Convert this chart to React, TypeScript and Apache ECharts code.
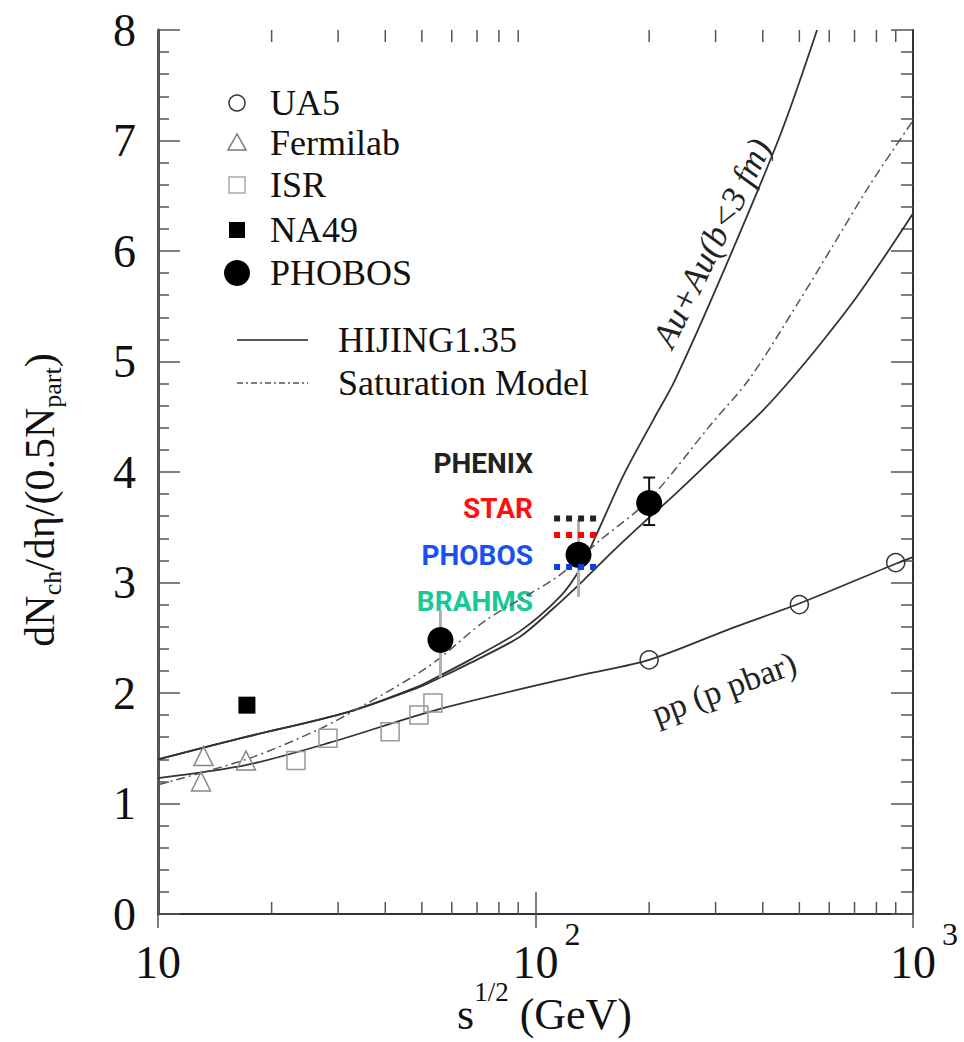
import React, { useEffect, useRef } from 'react';
import * as echarts from 'echarts';

// ---------------- data ----------------
const xTickValues = [10, 100, 1000];
const xTickExponents = ['', '2', '3'];
const xMinorTicks = [20, 30, 40, 50, 60, 70, 80, 90, 200, 300, 400, 500, 600, 700, 800, 900];
const yTickValues = [0, 1, 2, 3, 4, 5, 6, 7, 8];

const ua5X = [200, 500, 900];
const ua5Y = [2.3, 2.8, 3.18];
const fermilabX = [13.2, 13.0, 17.1];
const fermilabY = [1.43, 1.2, 1.39];
const isrX = [23.2, 28.2, 41.2, 49.1, 53.5];
const isrY = [1.39, 1.59, 1.65, 1.8, 1.91];
const na49X = [17.2];
const na49Y = [1.89];
const phobosX = [56, 130, 200];
const phobosY = [2.48, 3.25, 3.72];
const phobosLow = [2.14, 2.87, 3.52];
const phobosHigh = [2.75, 3.57, 3.95];
const phobosCapped = [0, 0, 1];

const ppX = [10, 17.2, 28.5, 55, 131, 200, 333, 500, 900, 1000];
const ppY = [1.23, 1.35, 1.55, 1.85, 2.16, 2.3, 2.59, 2.81, 3.17, 3.23];

const hijingLowX = [10, 17, 32, 49, 56, 67, 91, 111, 134, 160, 193, 231, 278, 334, 401, 481, 578, 694, 833, 1000];
const hijingLowY = [1.4, 1.6, 1.83, 2.05, 2.14, 2.27, 2.51, 2.76, 3.02, 3.28, 3.54, 3.78, 4.04, 4.3, 4.56, 4.86, 5.19, 5.54, 5.93, 6.34];

const hijingHighX = [10, 17, 32, 49, 56, 67, 91, 116, 131, 148, 171, 205, 234, 308, 445, 557];
const hijingHighY = [1.4, 1.6, 1.83, 2.06, 2.16, 2.3, 2.56, 2.87, 3.12, 3.5, 3.97, 4.47, 4.83, 5.74, 7.05, 8.0];

const satX = [10, 17.5, 27, 36, 49, 56, 74, 114, 148, 200, 290, 370, 500, 614, 769, 1000];
const satY = [1.17, 1.41, 1.68, 1.91, 2.18, 2.32, 2.66, 3.05, 3.38, 3.75, 4.42, 4.85, 5.55, 6.05, 6.6, 7.18];

const rhicNames = ['PHENIX', 'STAR', 'PHOBOS', 'BRAHMS'];
const rhicColors = ['#222222', '#ff1010', '#1a50f0', '#18c896'];
const rhicDotColors = ['#222222', '#ff0000', '#0a40e0'];
const rhicX = [112, 145];
const rhicY = [3.58, 3.43, 3.14];

const legendMarkerNames = ['UA5', 'Fermilab', 'ISR', 'NA49', 'PHOBOS'];
const legendLineNames = ['HIJING1.35', 'Saturation Model'];

const SERIF = '"Liberation Serif", "Times New Roman", serif';

function pairs(xs: number[], ys: number[]) {
  return xs.map((x, i) => [x, ys[i]]);
}

export default function App() {
  const ref = useRef<HTMLDivElement>(null);

  useEffect(() => {
    if (!ref.current) return;
    const chart = echarts.init(ref.current, null, { renderer: 'svg' });

    const axisColor = '#333';
    const xLabelFormatter = (v: number) => {
      const i = xTickValues.findIndex((t) => Math.abs(t - v) < 1e-6 * t);
      if (i < 0) return '';
      const e = xTickExponents[i];
      return e ? `{e|}{a|10}{s|${e}}` : '{a|10}';
    };

    const curveLine = (name: string, xs: number[], ys: number[], style: any) => ({
      name,
      type: 'line',
      data: pairs(xs, ys),
      smooth: 0.3,
      symbol: 'none',
      silent: true,
      z: 2,
      lineStyle: style,
    });

    const legendY = [103, 143, 185, 230, 273];
    const legendLineY = [340, 383];
    const legendText = (t: string, x: number, y: number) => ({
      type: 'text',
      x,
      y,
      silent: true,
      style: { text: t, font: `36px ${SERIF}`, fill: '#111', align: 'left', verticalAlign: 'middle' },
    });

    const rhicLabelY = [463, 508, 555, 601];

    const option: any = {
      animation: false,
      backgroundColor: '#ffffff',
      grid: { left: 158, right: 51, top: 30, bottom: 128, containLabel: false, outerBoundsMode: 'none' },
      xAxis: [
        {
          type: 'log',
          logBase: 10,
          min: 10,
          max: 1000,
          position: 'bottom',
          axisLine: { show: true, lineStyle: { color: axisColor, width: 2 } },
          axisTick: { show: true, inside: true, length: 22, lineStyle: { color: '#555', width: 1.5 } },
          splitLine: { show: false },
          axisLabel: {
            show: true,
            margin: 4,
            showMinLabel: true,
            showMaxLabel: true,
            hideOverlap: false,
            formatter: xLabelFormatter,
            rich: {
              a: { fontFamily: SERIF, fontSize: 46, color: '#111', padding: [21, 0, 0, 0] },
              s: { fontFamily: SERIF, fontSize: 32, color: '#111', verticalAlign: 'top', padding: [0, 0, 0, 6] },
              e: { width: 22 },
            },
          },
          name: '{a|s}{s|1/2}{a| (GeV)}',
          nameLocation: 'middle',
          nameGap: 60,
          nameMoveOverlap: false,
          nameTextStyle: {
            padding: [0, 0, 0, 18],
            rich: {
              a: { fontFamily: SERIF, fontSize: 44, color: '#111', padding: [18, 0, 0, 0] },
              s: { fontFamily: SERIF, fontSize: 27, color: '#111', verticalAlign: 'top', padding: [4, 0, 0, 0] },
            },
          },
        },
        {
          type: 'log',
          logBase: 10,
          min: 10,
          max: 1000,
          position: 'top',
          axisLine: { show: true, lineStyle: { color: axisColor, width: 2 } },
          axisTick: { show: true, inside: true, length: 14, lineStyle: { color: '#555', width: 1.5 } },
          axisLabel: { show: false },
          splitLine: { show: false },
        },
      ],
      yAxis: [
        {
          type: 'value',
          min: yTickValues[0],
          max: yTickValues[yTickValues.length - 1],
          interval: 1,
          position: 'left',
          axisLine: { show: true, lineStyle: { color: '#555', width: 3 } },
          axisTick: { show: true, inside: true, length: 22, lineStyle: { color: '#555', width: 1.5 } },
          minorTick: { show: true, splitNumber: 5, length: 11, lineStyle: { color: '#555', width: 1.5 } },
          splitLine: { show: false },
          axisLabel: { show: true, margin: 22, fontFamily: SERIF, fontSize: 46, color: '#111' },
        },
        {
          type: 'value',
          min: yTickValues[0],
          max: yTickValues[yTickValues.length - 1],
          interval: 1,
          position: 'right',
          axisLine: { show: true, lineStyle: { color: axisColor, width: 2 } },
          axisTick: { show: true, inside: true, length: 22, lineStyle: { color: '#555', width: 1.5 } },
          minorTick: { show: true, splitNumber: 5, length: 12, lineStyle: { color: '#555', width: 1.5 } },
          splitLine: { show: false },
          axisLabel: { show: false },
        },
      ],
      series: [
        {
          name: 'minorTicks',
          type: 'custom',
          silent: true,
          clip: false,
          z: 1,
          data: xMinorTicks.map((v) => [v, 0]),
          encode: { x: 0, y: 1 },
          renderItem: (params: any, api: any) => {
            const b = api.coord([api.value(0), 0]);
            const t = api.coord([api.value(0), 8]);
            const st = { stroke: '#555', lineWidth: 1.5 };
            return {
              type: 'group',
              children: [
                { type: 'line', shape: { x1: b[0], y1: b[1], x2: b[0], y2: b[1] - 12 }, style: st },
                { type: 'line', shape: { x1: t[0], y1: t[1], x2: t[0], y2: t[1] + 12 }, style: st },
              ],
            };
          },
        },
        curveLine('pp', ppX, ppY, { color: '#333', width: 1.8 }),
        curveLine('HIJING1.35 low', hijingLowX, hijingLowY, { color: '#333', width: 1.8 }),
        curveLine('HIJING1.35 high', hijingHighX, hijingHighY, { color: '#333', width: 1.8 }),
        curveLine('Saturation Model', satX, satY, { color: '#555', width: 1.5, type: [9, 4, 2, 4] }),
        {
          name: 'UA5',
          type: 'scatter',
          silent: true,
          z: 4,
          symbol: 'circle',
          symbolSize: 18,
          data: pairs(ua5X, ua5Y),
          itemStyle: { color: 'transparent', borderColor: '#333', borderWidth: 1.5, opacity: 1 },
        },
        {
          name: 'Fermilab',
          type: 'scatter',
          silent: true,
          z: 4,
          symbol: 'triangle',
          symbolSize: 19,
          data: pairs(fermilabX, fermilabY),
          itemStyle: { color: 'transparent', borderColor: '#888', borderWidth: 1.5, opacity: 1 },
        },
        {
          name: 'ISR',
          type: 'scatter',
          silent: true,
          z: 4,
          symbol: 'rect',
          symbolSize: 18,
          data: pairs(isrX, isrY),
          itemStyle: { color: 'transparent', borderColor: '#999', borderWidth: 1.5, opacity: 1 },
        },
        {
          name: 'NA49',
          type: 'scatter',
          silent: true,
          z: 4,
          symbol: 'rect',
          symbolSize: 17,
          data: pairs(na49X, na49Y),
          itemStyle: { color: '#000', opacity: 1 },
        },
        {
          name: 'PHOBOS errors',
          type: 'custom',
          silent: true,
          z: 3,
          data: phobosX.map((x, i) => [x, phobosLow[i], phobosHigh[i], phobosCapped[i]]),
          encode: { x: 0, y: [1, 2] },
          renderItem: (params: any, api: any) => {
            const lo = api.coord([api.value(0), api.value(1)]);
            const hi = api.coord([api.value(0), api.value(2)]);
            const capped = api.value(3) === 1;
            const color = capped ? '#111' : '#b0b0b0';
            const st = { stroke: color, lineWidth: capped ? 2 : 3 };
            const children: any[] = [
              { type: 'line', shape: { x1: lo[0], y1: lo[1], x2: hi[0], y2: hi[1] }, style: st },
            ];
            if (capped) {
              children.push({ type: 'line', shape: { x1: lo[0] - 6, y1: lo[1], x2: lo[0] + 6, y2: lo[1] }, style: st });
              children.push({ type: 'line', shape: { x1: hi[0] - 6, y1: hi[1], x2: hi[0] + 6, y2: hi[1] }, style: st });
            }
            return { type: 'group', children };
          },
        },
        {
          name: 'PHOBOS',
          type: 'scatter',
          silent: true,
          z: 5,
          symbol: 'circle',
          symbolSize: 26,
          data: pairs(phobosX, phobosY),
          itemStyle: { color: '#000', opacity: 1 },
        },
        ...rhicY.map((y, i) => ({
          name: rhicNames[i] + ' result',
          type: 'line',
          silent: true,
          z: 6,
          symbol: 'none',
          data: rhicX.map((x) => [x, y]),
          lineStyle: { color: rhicDotColors[i], width: 6, type: [6, 6] },
        })),
      ],
      graphic: [
        // legend markers
        { type: 'circle', silent: true, shape: { cx: 237, cy: legendY[0], r: 8 }, style: { fill: 'none', stroke: '#333', lineWidth: 1.5 } },
        {
          type: 'polygon',
          silent: true,
          shape: { points: [[237, legendY[1] - 9], [228, legendY[1] + 7], [246, legendY[1] + 7]] },
          style: { fill: 'none', stroke: '#777', lineWidth: 1.5 },
        },
        { type: 'rect', silent: true, shape: { x: 229, y: legendY[2] - 8, width: 16, height: 16 }, style: { fill: 'none', stroke: '#aaa', lineWidth: 1.5 } },
        { type: 'rect', silent: true, shape: { x: 229, y: legendY[3] - 8, width: 16, height: 16 }, style: { fill: '#000' } },
        { type: 'circle', silent: true, shape: { cx: 237, cy: legendY[4], r: 13 }, style: { fill: '#000' } },
        { type: 'line', silent: true, shape: { x1: 237, y1: legendLineY[0], x2: 308, y2: legendLineY[0] }, style: { stroke: '#555', lineWidth: 2 } },
        {
          type: 'line',
          silent: true,
          shape: { x1: 237, y1: legendLineY[1], x2: 308, y2: legendLineY[1] },
          style: { stroke: '#555', lineWidth: 1.5, lineDash: [6, 3, 2, 3] },
        },
        ...legendMarkerNames.map((n, i) => legendText(n, 270, legendY[i])),
        ...legendLineNames.map((n, i) => legendText(n, 338, legendLineY[i])),
        // RHIC experiment labels
        ...rhicNames.map((n, i) => ({
          type: 'text',
          x: 533,
          y: rhicLabelY[i],
          silent: true,
          style: {
            text: n,
            font: 'bold 28px Roboto, "Liberation Sans", sans-serif',
            fill: rhicColors[i],
            align: 'right',
            verticalAlign: 'middle',
          },
        })),
        // curve annotations
        {
          type: 'text',
          x: 712,
          y: 243,
          rotation: (64 * Math.PI) / 180,
          silent: true,
          style: { text: 'Au+Au(b<3 fm)', font: `italic 35px ${SERIF}`, fill: '#222', align: 'center', verticalAlign: 'middle' },
        },
        {
          type: 'text',
          x: 724,
          y: 688,
          rotation: (20.5 * Math.PI) / 180,
          silent: true,
          style: { text: 'pp (p pbar)', font: `34px ${SERIF}`, fill: '#222', align: 'center', verticalAlign: 'middle' },
        },
        // y axis title
        {
          type: 'text',
          x: 42,
          y: 500,
          rotation: Math.PI / 2,
          silent: true,
          style: {
            text: '{a|dN}{b|ch}{a|/dη/(0.5N}{b|part}{a|)}',
            align: 'center',
            verticalAlign: 'middle',
            rich: {
              a: { fontFamily: SERIF, fontSize: 42, fill: '#111', padding: [0, 0, 4, 0] },
              b: { fontFamily: SERIF, fontSize: 26, fill: '#111', verticalAlign: 'bottom' },
            },
          },
        },
      ],
    };

    chart.setOption(option);
    return () => {
      chart.dispose();
    };
  }, []);

  return (
    <div
      ref={ref}
      style={{ position: 'fixed', left: 0, top: 0, width: 964, height: 1042, background: '#fff' }}
    />
  );
}
